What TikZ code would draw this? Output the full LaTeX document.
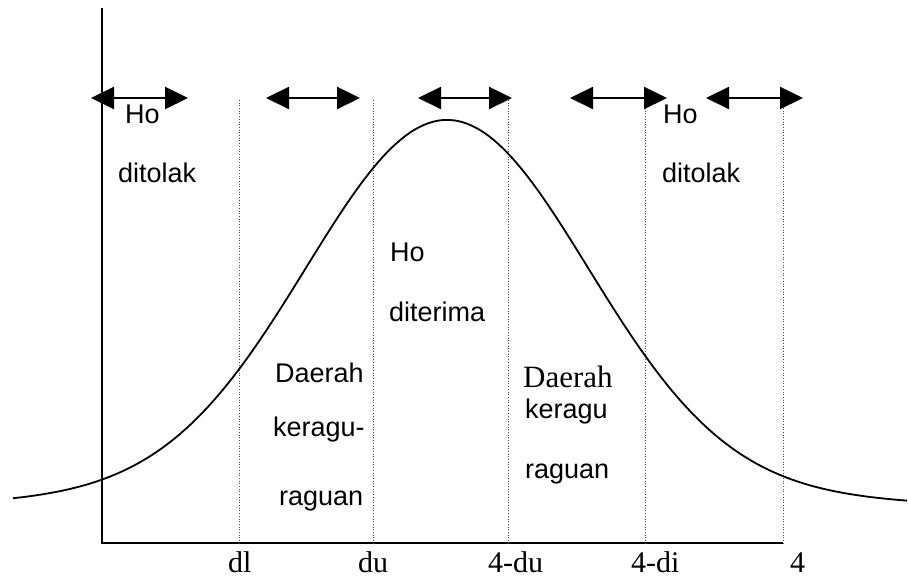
\documentclass[tikz,border=0pt]{standalone}
\usepackage{fontspec}
\setmainfont{Liberation Serif}
\setsansfont{Liberation Sans}
\usetikzlibrary{arrows.meta}
\begin{document}
\begin{tikzpicture}[x=1pt,y=-1pt,
  axisline/.style={line width=1.6pt,black},
  guide/.style={dotted,line width=0.7pt,black!70},
  spanarrow/.style={line width=2.2pt,{Triangle[length=23pt,width=22pt]}-{Triangle[length=23pt,width=22pt]}},
  curveline/.style={line width=1.8pt,black},
  sanslabel/.style={font=\sffamily\fontsize{27}{32}\selectfont,inner sep=0pt,anchor=base west},
  seriflabel/.style={font=\rmfamily\fontsize{31}{34}\selectfont,inner sep=0pt,anchor=base west},
  ticklabel/.style={font=\rmfamily\fontsize{30}{34}\selectfont,inner sep=0pt,anchor=base west}]
\useasboundingbox (0,0) rectangle (908,577);
% axes
\coordinate (top) at (102,8);
\coordinate (origin) at (102,543);
\coordinate (xend) at (783,543);
\draw[axisline] (top) -- (origin) -- (xend);
% guide lines
\foreach \n/\x in {g1/239,g2/373,g3/508,g4/645,g5/783}{
  \coordinate (\n t) at (\x,100);
  \coordinate (\n b) at (\x,543);
  \draw[guide] (\n t) -- (\n b);
}
% curve
\draw[curveline] plot[domain=13:907,samples=180,smooth]
  (\x,{510-365*exp(-((\x-447)/100)^2/3.92)-25*exp(-((\x-447)/100)^2/18)});
% span arrows
\foreach \n/\a/\b in {r1/91/188,r2/266/360,r3/418/512,r4/570/667,r5/706/803}{
  \coordinate (\n a) at (\a,98);
  \coordinate (\n b) at (\b,98);
  \draw[spanarrow] (\n a) -- (\n b);
}
% labels
\node[sanslabel] (hoL) at (125,124) {Ho};
\node[sanslabel] (tolakL) at (118,183) {ditolak};
\node[sanslabel] (hoR) at (663,124) {Ho};
\node[sanslabel] (tolakR) at (662,183) {ditolak};
\node[sanslabel] (hoM) at (390,262) {Ho};
\node[sanslabel] (terima) at (389,322) {diterima};
\node[sanslabel] (daerahL) at (275,383) {Daerah};
\node[sanslabel] (raguL) at (273,436) {keragu-};
\node[sanslabel] (raguanL) at (279,505) {raguan};
\node[seriflabel] (daerahR) at (523,388) {Daerah};
\node[sanslabel] (raguR) at (525,418) {keragu};
\node[sanslabel] (raguanR) at (525,478) {raguan};
% tick labels
\node[ticklabel] (tdl) at (228,572) {dl};
\node[ticklabel] (tdu) at (358,572) {du};
\node[ticklabel] (t4du) at (488,572) {4-du};
\node[ticklabel] (t4di) at (631,572) {4-di};
\node[ticklabel] (t4) at (790,572) {4};
\end{tikzpicture}
\end{document}
